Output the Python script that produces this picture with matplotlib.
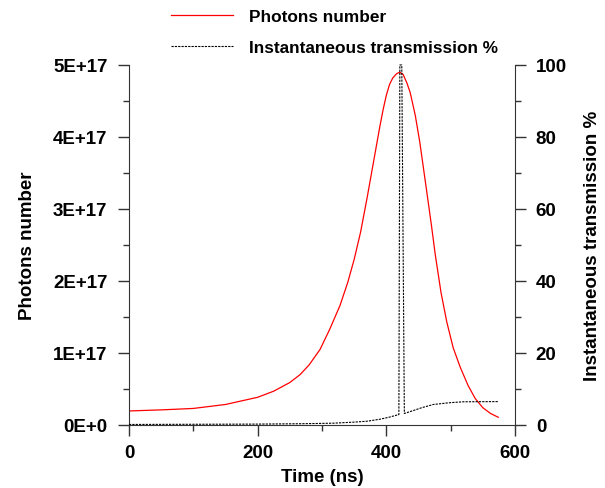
# photons number and instantaneous transmission vs time, two y axes

import matplotlib
matplotlib.use('Agg')
import matplotlib.pyplot as plt
from matplotlib.ticker import MultipleLocator, FuncFormatter

plt.rcParams['font.family'] = ['Liberation Sans', 'DejaVu Sans']
plt.rcParams['font.weight'] = 'bold'

# photons number
t_photons = [0, 50, 100, 150, 200, 225, 250, 266, 280, 297, 312, 328, 340, 350,
             360, 370, 380, 390, 395, 400, 405, 410, 416, 421, 426, 432, 437,
             445, 452, 463, 470, 476, 485, 494, 504, 515, 527, 538, 550, 562,
             574]
photons = [1.95e16, 2.1e16, 2.3e16, 2.85e16, 3.85e16, 4.7e16, 5.9e16, 7.0e16,
           8.35e16, 1.05e17, 1.33e17, 1.66e17, 1.98e17, 2.3e17, 2.68e17,
           3.15e17, 3.65e17, 4.15e17, 4.38e17, 4.58e17, 4.73e17, 4.82e17,
           4.88e17, 4.90e17, 4.87e17, 4.75e17, 4.62e17, 4.3e17, 3.93e17,
           3.23e17, 2.78e17, 2.37e17, 1.84e17, 1.43e17, 1.07e17, 0.8e17,
           0.55e17, 0.37e17, 0.24e17, 0.16e17, 0.107e17]

# instantaneous transmission in %
t_trans = [0, 100, 200, 266, 317, 350, 370, 390, 405, 419.5, 421, 424, 428,
           440, 455, 473, 499, 520, 574]
trans = [0.15, 0.2, 0.25, 0.35, 0.5, 0.8, 1.05, 1.6, 2.2, 2.9, 100, 100, 3.2,
         3.9, 4.8, 5.7, 6.2, 6.45, 6.5]

fig = plt.figure(figsize=(6.05, 4.89), dpi=100)
ax = fig.add_axes([129/605, 1 - 426/489, 386/605, 360/489])
ax2 = ax.twinx()

l1, = ax.plot(t_photons, photons, color='red', lw=0.9, label='Photons number')
l2, = ax2.plot(t_trans, trans, color='black', lw=0.8, linestyle=(0, (2, 1)),
               label='Instantaneous transmission %', clip_on=False)

ax.set_xlim(0, 600)
ax.set_ylim(0, 5e17)
ax2.set_ylim(0, 100)

ax.xaxis.set_major_locator(MultipleLocator(200))
ax.xaxis.set_minor_locator(MultipleLocator(100))
ax.yaxis.set_major_locator(MultipleLocator(1e17))
ax.yaxis.set_minor_locator(MultipleLocator(0.5e17))
ax2.yaxis.set_major_locator(MultipleLocator(20))
ax2.yaxis.set_minor_locator(MultipleLocator(10))

def sci_fmt(v, pos):
    if v == 0:
        return '0E+0'
    return '%dE+17' % round(v / 1e17)

ax.yaxis.set_major_formatter(FuncFormatter(sci_fmt))

for a in (ax, ax2):
    a.spines['top'].set_visible(False)
    a.tick_params(which='major', direction='out', length=8, width=1,
                  labelsize=13.5, color='#333333')
    a.tick_params(which='minor', direction='out', length=4, width=1,
                  color='#333333')
    for s in a.spines.values():
        s.set_color('#333333')
ax.spines['right'].set_visible(False)
ax2.spines['left'].set_visible(False)
ax2.spines['bottom'].set_visible(False)
ax.tick_params(axis='x', pad=6)
ax.tick_params(axis='y', pad=7.5)
ax2.tick_params(axis='y', pad=7)

ax.set_xlabel('Time (ns)', fontsize=13.5, fontweight='bold', labelpad=5)
ax.set_ylabel('Photons number', fontsize=13.5, fontweight='bold', labelpad=12)
ax2.set_ylabel('Instantaneous transmission %', fontsize=13.5,
               fontweight='bold', labelpad=12)

fig.legend(handles=[l1, l2], loc='upper left',
           bbox_to_anchor=(171/605, 1 - 10/489), frameon=False,
           fontsize=12.4, handlelength=3.6, handletextpad=0.95,
           labelspacing=0.95, borderpad=0, borderaxespad=0)

fig.savefig('out.png', dpi=100)
